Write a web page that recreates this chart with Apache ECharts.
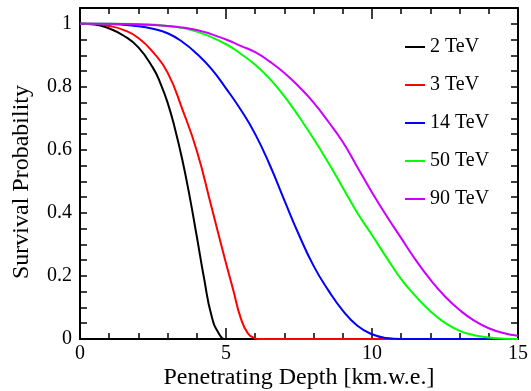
<!DOCTYPE html>
<html>
<head>
<meta charset="utf-8">
<script src="https://cdn.jsdelivr.net/npm/echarts@6/dist/echarts.min.js"></script>
<style>
  html, body { margin: 0; padding: 0; background: #fff; }
  #chart { width: 531px; height: 391px; }
</style>
</head>
<body>
<div id="chart"></div>
<script>
// Muon survival probability versus penetrating depth, one curve per energy.
const seriesNames = ['2 TeV', '3 TeV', '14 TeV', '50 TeV', '90 TeV'];
const seriesColors = ['#000000', '#ff0000', '#0000ff', '#00ff00', '#cc00ff'];

const depth2TeV = [0, 0.5, 1, 1.5, 2, 2.5, 2.75, 3, 3.25, 3.5, 3.75, 4, 4.25, 4.5, 4.75, 5, 15];
const surv2TeV  = [1, 0.998, 0.985, 0.962, 0.925, 0.86, 0.812, 0.75, 0.668, 0.57, 0.455, 0.325, 0.192, 0.075, 0.018, 0, 0];

const depth3TeV = [0, 0.5, 1, 1.5, 2, 2.5, 3, 3.5, 4, 4.5, 5, 5.25, 5.5, 5.75, 6, 6.1, 15];
const surv3TeV  = [1, 0.999, 0.993, 0.98, 0.955, 0.91, 0.845, 0.73, 0.597, 0.42, 0.24, 0.155, 0.068, 0.018, 0.002, 0, 0];

const depth14TeV = [0, 1, 2, 2.5, 3, 3.5, 4, 4.5, 5, 5.5, 6, 6.5, 7, 7.5, 8, 8.5, 9, 9.5, 10, 10.5, 11, 15];
const surv14TeV  = [1, 0.999, 0.992, 0.984, 0.97, 0.943, 0.905, 0.857, 0.795, 0.728, 0.65, 0.552, 0.44, 0.33, 0.232, 0.155, 0.09, 0.042, 0.015, 0.003, 0, 0];

const depth50TeV = [0, 1, 2, 3, 4, 5, 5.5, 6, 6.5, 7, 7.5, 8, 8.5, 9, 9.5, 10, 10.5, 11, 11.5, 12, 12.5, 13, 13.5, 14, 14.5, 15];
const surv50TeV  = [1, 1, 0.999, 0.993, 0.975, 0.935, 0.905, 0.87, 0.825, 0.77, 0.705, 0.635, 0.56, 0.48, 0.4, 0.33, 0.258, 0.19, 0.135, 0.088, 0.051, 0.026, 0.012, 0.005, 0.001, 0];

const depth90TeV = [0, 1, 2, 3, 4, 5, 5.5, 6, 6.5, 7, 7.5, 8, 8.5, 9, 9.5, 10, 10.5, 11, 11.5, 12, 12.5, 13, 13.5, 14, 14.5, 15];
const surv90TeV  = [1, 1, 0.998, 0.993, 0.98, 0.95, 0.93, 0.91, 0.88, 0.844, 0.8, 0.75, 0.69, 0.625, 0.545, 0.465, 0.39, 0.32, 0.25, 0.188, 0.135, 0.092, 0.058, 0.034, 0.019, 0.01];

// Tick spacing
const xMajorStep = 5, xMinorSplit = 5;
const yTickStep = 0.05, yLabelStep = 0.2;

const xTitle = 'Penetrating Depth [km.w.e.]';
const yTitle = 'Survival Probability';

const depths = [depth2TeV, depth3TeV, depth14TeV, depth50TeV, depth90TeV];
const survs = [surv2TeV, surv3TeV, surv14TeV, surv50TeV, surv90TeV];

const FONT = '"Liberation Serif", "DejaVu Serif", serif';
const X_MIN = 0, X_MAX = 15, Y_MIN = 0, Y_MAX = 1.05;

const frameLine = { show: true, onZero: false, lineStyle: { color: '#000', width: 2 } };

// Only every 0.2 gets a label on the probability axis
function yLabel(v) {
  const k = Math.round(v / yLabelStep);
  return Math.abs(v - k * yLabelStep) < 1e-6 ? String(+(k * yLabelStep).toFixed(1)) : '';
}

function xAxisDef(position, withLabels) {
  return {
    type: 'value', position: position, min: X_MIN, max: X_MAX, interval: xMajorStep,
    axisLine: frameLine,
    axisTick: { show: true, inside: true, length: 11, lineStyle: { color: '#000', width: 1.5 } },
    minorTick: { show: true, splitNumber: xMinorSplit, length: 6, lineStyle: { color: '#000', width: 1.5 } },
    axisLabel: withLabels
      ? { show: true, margin: 5, color: '#000', fontFamily: FONT, fontSize: 20 }
      : { show: false },
    splitLine: { show: false }, minorSplitLine: { show: false }
  };
}

function yAxisDef(position, withLabels) {
  return {
    type: 'value', position: position, min: Y_MIN, max: Y_MAX, interval: yTickStep,
    axisLine: frameLine,
    axisTick: { show: true, inside: true, length: 7, lineStyle: { color: '#000', width: 1.5 } },
    axisLabel: withLabels
      ? { show: true, margin: 8, color: '#000', fontFamily: FONT, fontSize: 20, formatter: yLabel }
      : { show: false },
    splitLine: { show: false }
  };
}

const chart = echarts.init(document.getElementById('chart'), null, { renderer: 'canvas' });

chart.setOption({
  animation: false,
  backgroundColor: '#fff',
  grid: { left: 80, right: 12, top: 8, bottom: 52 },
  legend: {
    orient: 'vertical', left: 400, top: 32,
    icon: 'rect', itemWidth: 20, itemHeight: 2, itemGap: 18, itemTextGap: 5,
    textStyle: { color: '#000', fontFamily: FONT, fontSize: 20, lineHeight: 20 },
    data: seriesNames
  },
  graphic: [
    {
      type: 'text', x: 299, y: 378,
      style: { text: xTitle, fill: '#000', fontFamily: FONT, fontSize: 24, align: 'center', verticalAlign: 'middle' }
    },
    {
      type: 'text', x: 22, y: 182, rotation: Math.PI / 2,
      style: { text: yTitle, fill: '#000', fontFamily: FONT, fontSize: 24, align: 'center', verticalAlign: 'middle' }
    }
  ],
  xAxis: [xAxisDef('bottom', true), xAxisDef('top', false)],
  yAxis: [yAxisDef('left', true), yAxisDef('right', false)],
  series: seriesNames.map(function (name, i) {
    return {
      name: name, type: 'line', xAxisIndex: 0, yAxisIndex: 0,
      data: depths[i].map(function (d, j) { return [d, survs[i][j]]; }),
      smooth: 0.5, showSymbol: false, symbol: 'none',
      color: seriesColors[i],
      lineStyle: { color: seriesColors[i], width: 2 }
    };
  })
});
</script>
</body>
</html>
